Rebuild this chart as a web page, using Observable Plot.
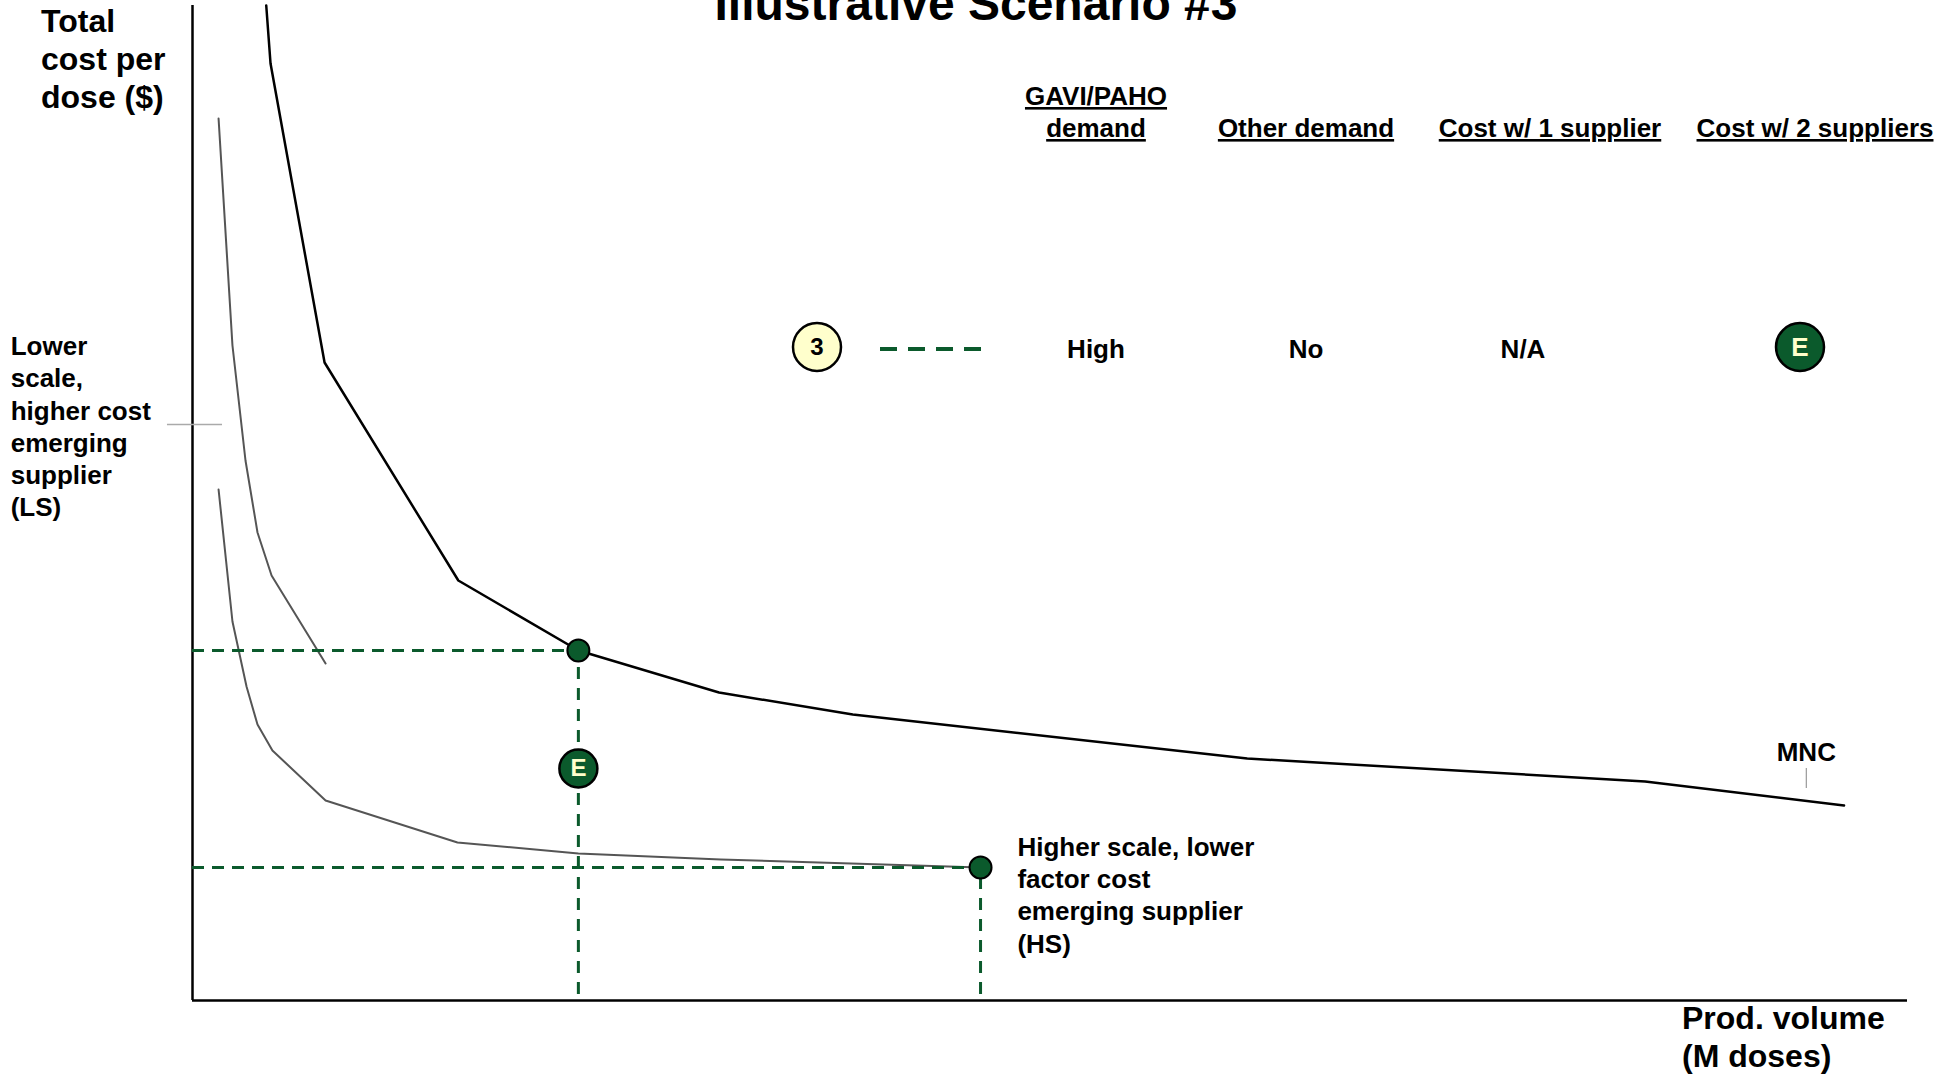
<!DOCTYPE html>
<html>
<head>
<meta charset="utf-8">
<script src="https://cdn.jsdelivr.net/npm/d3@7"></script>
<script src="https://cdn.jsdelivr.net/npm/@observablehq/plot@0.6"></script>
<style>
  html, body { margin: 0; padding: 0; background: #fff; }
  #wrap { position: relative; width: 1948px; height: 1074px; overflow: hidden; }
  #wrap > svg { position: absolute; left: 0; top: 0; }
</style>
</head>
<body>
<div id="wrap"></div>
<script>
// Cost curves: production volume (M doses) vs total cost per dose ($), illustrative units
const mncVolume = [4.3, 4.55, 7.7, 15.5, 22.5, 30.7, 38.5, 61.5, 84.7, 96.3];
const mncCost   = [9.95, 9.37, 6.38, 4.2, 3.5, 3.08, 2.86, 2.42, 2.19, 1.95];

const lsVolume = [1.52, 2.33, 3.09, 3.79, 4.61, 7.76];
const lsCost   = [8.82, 6.55, 5.4, 4.68, 4.25, 3.37];

const hsVolume = [1.52, 2.33, 3.15, 3.79, 4.66, 7.76, 15.45, 22.5, 30.8, 45.95];
const hsCost   = [5.11, 3.79, 3.14, 2.76, 2.5, 2.0, 1.58, 1.47, 1.41, 1.33];

// Operating points (supplier volume and resulting cost)
const pointVolume = [22.5, 45.95];
const pointCost   = [3.5, 1.33];

// Scenario marker on the chart
const markerVolume = [22.5];
const markerCost   = [2.32];
const markerLabel  = ["E"];

// Curve annotations
const curveNames  = ["Lower\nscale,\nhigher cost\nemerging\nsupplier\n(LS)", "Higher scale, lower\nfactor cost\nemerging supplier\n(HS)", "MNC"];
const curveLabelX = [-10.6, 48.1, 94.1];
const curveLabelY = [5.75, 1.065, 2.5];
const curveLabelAnchor = ["start", "start", "middle"];

// Legend table
const legendHeaders = ["GAVI/PAHO\ndemand", "Other demand", "Cost w/ 1 supplier", "Cost w/ 2 suppliers"];
const scenarioId = "3";
const scenarioRow = ["High", "No", "N/A"];
const twoSupplierCost = "E";

const chartTitle = "Illustrative Scenario #3";
const yTitle = ["Total", "cost per", "dose ($)"];
const xTitle = ["Prod. volume", "(M doses)"];

const FONT = '"Liberation Sans", Arial, Helvetica, sans-serif';
const GREEN = "#0b5a2c";
const PALE = "#ffffcc";

const toRows = (xs, ys) => xs.map((v, i) => ({volume: v, cost: ys[i]}));
const mnc = toRows(mncVolume, mncCost);
const ls = toRows(lsVolume, lsCost);
const hs = toRows(hsVolume, hsCost);
const points = toRows(pointVolume, pointCost);
const markers = markerVolume.map((v, i) => ({volume: v, cost: markerCost[i], label: markerLabel[i]}));
const labels = curveNames.map((t, i) => ({text: t, volume: curveLabelX[i], cost: curveLabelY[i], anchor: curveLabelAnchor[i]}));

const labelMark = (anchor) => Plot.text(labels.filter((d) => d.anchor === anchor), {
  x: "volume", y: "cost", text: "text", textAnchor: anchor,
  fontSize: 26, fontWeight: "bold", lineHeight: 1.24, fill: "#000"
});

const chart = Plot.plot({
  width: 1948,
  height: 1074,
  marginLeft: 192,
  marginRight: 41,
  marginTop: 0,
  marginBottom: 74,
  x: {domain: [0, 100], axis: null},
  y: {domain: [0, 10], axis: null},
  style: {fontFamily: FONT, background: "transparent", overflow: "visible"},
  marks: [
    // frame axes
    Plot.ruleX([0], {y1: 0, y2: 9.95, stroke: "#000", strokeWidth: 2.5}),
    Plot.ruleY([0], {x1: 0, x2: 100, stroke: "#000", strokeWidth: 2.5}),
    // leader ticks for the LS and MNC labels
    Plot.ruleY([5.76], {x1: -1.46, x2: 1.75, stroke: "#aaa", strokeWidth: 1.5}),
    Plot.ruleX([94.1], {y1: 2.12, y2: 2.32, stroke: "#999", strokeWidth: 1.2}),
    // cost curves
    Plot.line(ls, {x: "volume", y: "cost", stroke: "#555", strokeWidth: 2}),
    Plot.line(hs, {x: "volume", y: "cost", stroke: "#555", strokeWidth: 2}),
    Plot.line(mnc, {x: "volume", y: "cost", stroke: "#000", strokeWidth: 2.5}),
    // dashed guides from operating points to the axes
    Plot.ruleY(points, {y: "cost", x1: 0, x2: "volume", stroke: GREEN, strokeWidth: 3, strokeDasharray: "12,8"}),
    Plot.ruleX(points, {x: "volume", y1: 0.06, y2: "cost", stroke: GREEN, strokeWidth: 3, strokeDasharray: "12,9"}),
    Plot.dot(points, {x: "volume", y: "cost", r: 11, fill: GREEN, stroke: "#000", strokeWidth: 2}),
    // scenario marker
    Plot.dot(markers, {x: "volume", y: "cost", r: 19, fill: GREEN, stroke: "#000", strokeWidth: 2.5}),
    Plot.text(markers, {x: "volume", y: "cost", text: "label", fill: PALE, fontSize: 24, fontWeight: "bold"}),
    // curve annotations
    labelMark("start"),
    labelMark("middle")
  ]
});
document.getElementById("wrap").appendChild(chart);

// Titles and legend table drawn on top
const overlay = d3.create("svg")
  .attr("width", 1948).attr("height", 1074)
  .style("font-family", FONT).style("font-weight", "bold")
  .style("pointer-events", "none");

overlay.append("text").attr("x", 976).attr("y", 20).attr("text-anchor", "middle")
  .attr("font-size", 48).text(chartTitle);

yTitle.forEach((t, i) => overlay.append("text").attr("x", 41).attr("y", 32 + i * 38)
  .attr("font-size", 32).text(t));
xTitle.forEach((t, i) => overlay.append("text").attr("x", 1682).attr("y", 1029 + i * 37.5)
  .attr("font-size", 32).text(t));

const colX = [1096, 1306, 1550, 1815];
legendHeaders.forEach((h, i) => {
  const lines = h.split("\n");
  lines.forEach((line, j) => {
    overlay.append("text").attr("x", colX[i]).attr("y", 137 - (lines.length - 1 - j) * 32)
      .attr("text-anchor", "middle").attr("font-size", 26)
      .style("text-decoration", "underline").text(line);
  });
});

// legend row
overlay.append("circle").attr("cx", 817).attr("cy", 347).attr("r", 24)
  .attr("fill", PALE).attr("stroke", "#000").attr("stroke-width", 2.5);
overlay.append("text").attr("x", 817).attr("y", 347).attr("dy", "0.35em").attr("text-anchor", "middle")
  .attr("font-size", 24).text(scenarioId);
overlay.append("line").attr("x1", 880).attr("x2", 982).attr("y1", 349).attr("y2", 349)
  .attr("stroke", GREEN).attr("stroke-width", 4).attr("stroke-dasharray", "17,11");
const rowX = [1096, 1306, 1523];
scenarioRow.forEach((t, i) => overlay.append("text").attr("x", rowX[i]).attr("y", 358)
  .attr("text-anchor", "middle").attr("font-size", 26).text(t));
overlay.append("circle").attr("cx", 1800).attr("cy", 347).attr("r", 24)
  .attr("fill", GREEN).attr("stroke", "#000").attr("stroke-width", 2.5);
overlay.append("text").attr("x", 1800).attr("y", 347).attr("dy", "0.35em").attr("text-anchor", "middle")
  .attr("font-size", 26).attr("fill", PALE).text(twoSupplierCost);

document.getElementById("wrap").appendChild(overlay.node());
</script>
</body>
</html>
